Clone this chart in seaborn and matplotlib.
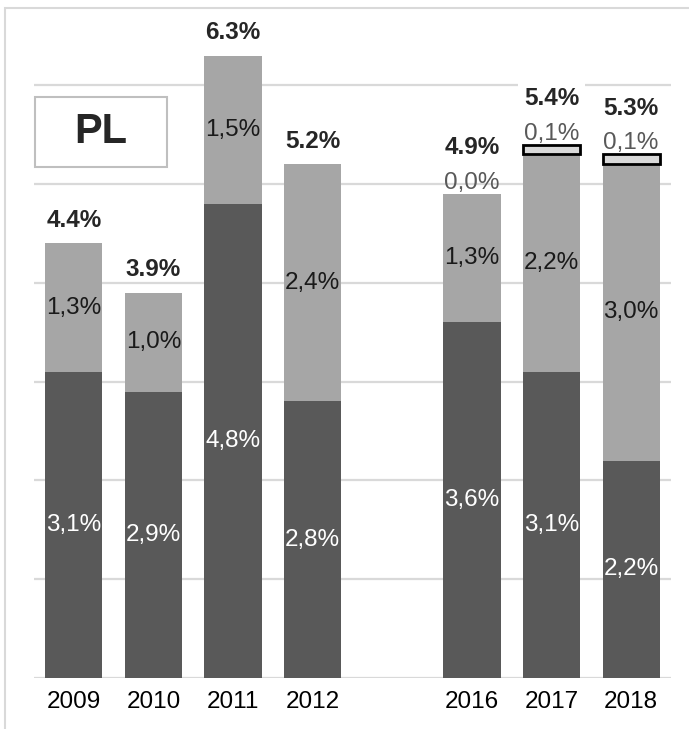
import matplotlib
matplotlib.use("Agg")
import matplotlib.pyplot as plt
from matplotlib.patches import Rectangle
import seaborn as sns

# data (percent)
years = ["2009", "2010", "2011", "2012", "2016", "2017", "2018"]
base = [3.1, 2.9, 4.8, 2.8, 3.6, 3.1, 2.2]
middle = [1.3, 1.0, 1.5, 2.4, 1.3, 2.2, 3.0]
top = [None, None, None, None, 0.0, 0.1, 0.1]
totals = [4.4, 3.9, 6.3, 5.2, 4.9, 5.4, 5.3]
country = "PL"

# empty slot between 2012 and 2016
order = years[:4] + [" "] + years[4:]

sns.set_style("white")
plt.rcParams["font.family"] = ["Liberation Sans", "DejaVu Sans"]

dark, mid, light = "#595959", "#a6a6a6", "#d9d9d9"
fs = 17.5

fig = plt.figure(figsize=(6.89, 7.29), dpi=100)
ax = fig.add_axes([34 / 689, 51 / 729, 637 / 689, 652 / 729])

sns.barplot(x=years, y=base, order=order, color=dark, saturation=1,
            width=0.72, linewidth=0, ax=ax, zorder=2)
sns.barplot(x=years, y=middle, order=order, color=mid, saturation=1,
            width=0.72, linewidth=0, bottom=base, ax=ax, zorder=2)

# small top segment, only where it is non-zero
top_years = [y for y, t in zip(years, top) if t]
top_vals = [t for t in top if t]
top_bottom = [b + m for b, m, t in zip(base, middle, top) if t]
sns.barplot(x=top_years, y=top_vals, order=order, color=light, saturation=1,
            width=0.72, bottom=top_bottom, edgecolor="black", linewidth=2,
            ax=ax, zorder=3)

ax.set_ylim(0, 6.6)
ax.set_xlim(-0.5, 7.5)
ax.set_yticks(range(0, 7))
ax.set_yticklabels([])
ax.yaxis.grid(True, color=light, linewidth=1.6, zorder=0)
ax.set_axisbelow(True)
for s in ax.spines.values():
    s.set_visible(False)
ax.tick_params(axis="x", length=0, pad=9, labelsize=fs, colors="black")
ax.tick_params(axis="y", length=0)
ax.set_xlabel("")
ax.set_ylabel("")


def comma(v):
    return f"{v:.1f}".replace(".", ",") + "%"


for i, yr in enumerate(years):
    x = order.index(yr)
    b, m, t, tot = base[i], middle[i], top[i], totals[i]
    ax.text(x, b / 2, comma(b), ha="center", va="center", color="white",
            fontsize=fs, zorder=5)
    ax.text(x, b + m / 2, comma(m), ha="center", va="center",
            color="#1a1a1a", fontsize=fs, zorder=5)
    if t is None:
        ax.annotate(f"{tot:.1f}%", (x, b + m), xytext=(0, 23),
                    textcoords="offset pixels", ha="center", va="center",
                    fontsize=fs, fontweight="bold", zorder=5)
    else:
        ax.annotate(comma(t), (x, b + m + t), xytext=(0, 11),
                    textcoords="offset pixels", ha="center", va="center",
                    fontsize=fs, color=dark, zorder=5)
        ax.annotate(f"{tot:.1f}%", (x, b + m + t), xytext=(0, 46),
                    textcoords="offset pixels", ha="center", va="center",
                    fontsize=fs, fontweight="bold", zorder=5,
                    bbox=dict(facecolor="white", edgecolor="none", pad=4))

# country box
fig.patches.append(Rectangle((35 / 689, 1 - 167 / 729), 132 / 689, 70 / 729,
                             transform=fig.transFigure, fill=False,
                             edgecolor="#bfbfbf", linewidth=1.5))
fig.text(101 / 689, 1 - 132 / 729, country, ha="center", va="center",
         fontsize=30, fontweight="bold")

# outer frame
fig.patches.append(Rectangle((5 / 689, -0.05), 1.0, 0.05 + 721 / 729,
                             transform=fig.transFigure, fill=False,
                             edgecolor=light, linewidth=1.5))

fig.savefig("out.png", dpi=100)
